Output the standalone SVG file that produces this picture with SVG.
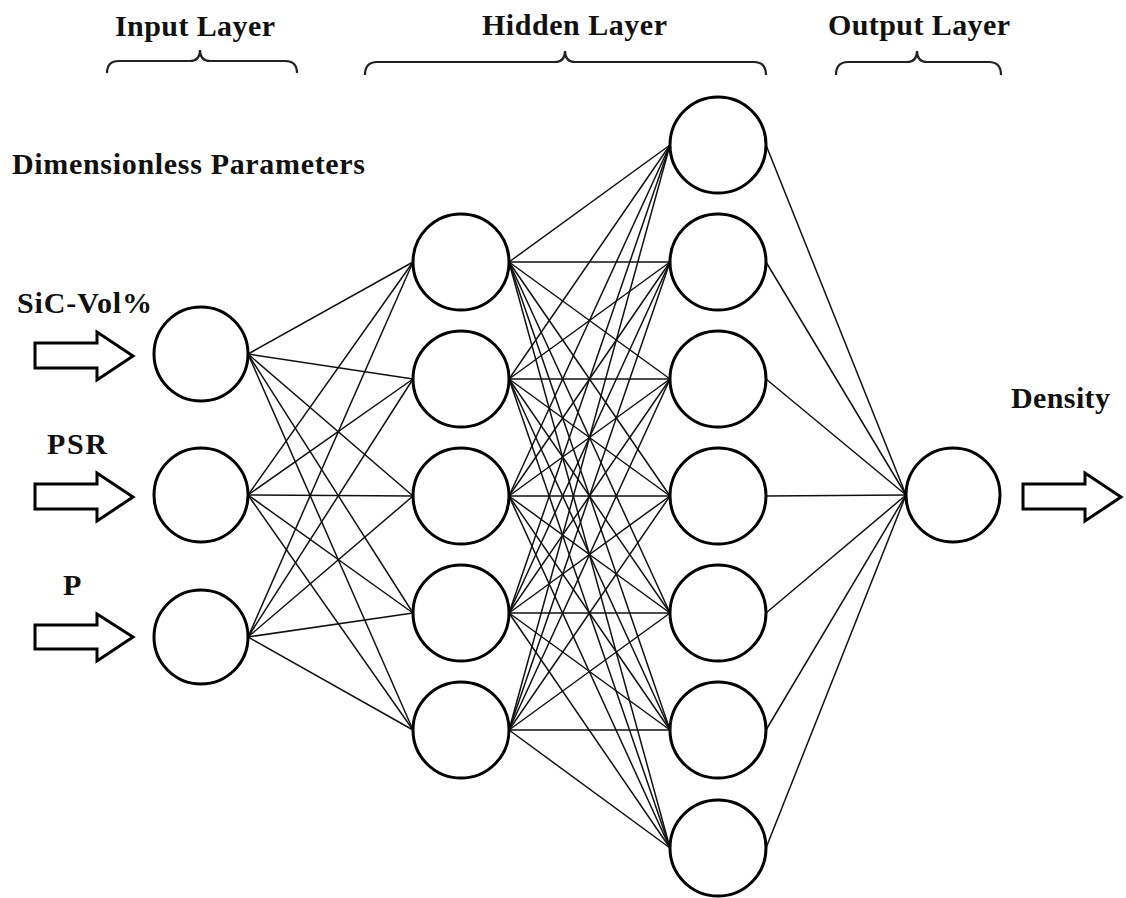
<svg xmlns="http://www.w3.org/2000/svg" width="1126" height="898" viewBox="0 0 1126 898">
<style>
.t{font-family:"Liberation Serif","Times New Roman",serif;font-weight:bold;font-size:30px;fill:#111}
.n{fill:#fff;stroke:#000;stroke-width:3}
.e line{stroke:#111;stroke-width:1.5}
.br{fill:none;stroke:#222;stroke-width:2.2}
.ar{fill:#fff;stroke:#000;stroke-width:3;stroke-linejoin:miter}
</style>
<rect width="1126" height="898" fill="#fff"/>
<g id="headers">
<text class="t" x="115" y="36" textLength="160" lengthAdjust="spacing">Input Layer</text>
<text class="t" x="482" y="35" textLength="185" lengthAdjust="spacing">Hidden Layer</text>
<text class="t" x="828" y="35" textLength="182" lengthAdjust="spacing">Output Layer</text>
<path class="br" d="M107,73 Q107,61 119,61 L190,61 Q200,61 200,50 Q200,61 210,61 L285,61 Q297,61 297,73"/>
<path class="br" d="M365,75 Q365,62 377,62 L555,62 Q565,62 565,51 Q565,62 575,62 L754,62 Q766,62 766,75"/>
<path class="br" d="M836,75 Q836,62 848,62 L907,62 Q917,62 917,51 Q917,62 927,62 L989,62 Q1001,62 1001,75"/>
<text class="t" x="12" y="174" textLength="353" lengthAdjust="spacing">Dimensionless Parameters</text>
</g>
<g id="inputs">
<text class="t" x="17" y="313" textLength="135" lengthAdjust="spacing">SiC-Vol%</text>
<text class="t" x="47" y="454" textLength="60" lengthAdjust="spacing">PSR</text>
<text class="t" x="63" y="595">P</text>
<polygon class="ar" points="35,343 97,343 97,332 133,356 97,380 97,368 35,368"/>
<polygon class="ar" points="35,484 97,484 97,473 133,497 97,521 97,509 35,509"/>
<polygon class="ar" points="35,625 97,625 97,614 133,637 97,661 97,649 35,649"/>
</g>
<g id="connectors" class="e">
<line x1="248" y1="354" x2="413" y2="262"/><line x1="248" y1="354" x2="413" y2="379"/><line x1="248" y1="354" x2="413" y2="496"/><line x1="248" y1="354" x2="413" y2="613"/><line x1="248" y1="354" x2="413" y2="730"/>
<line x1="248" y1="495" x2="413" y2="262"/><line x1="248" y1="495" x2="413" y2="379"/><line x1="248" y1="495" x2="413" y2="496"/><line x1="248" y1="495" x2="413" y2="613"/><line x1="248" y1="495" x2="413" y2="730"/>
<line x1="248" y1="637" x2="413" y2="262"/><line x1="248" y1="637" x2="413" y2="379"/><line x1="248" y1="637" x2="413" y2="496"/><line x1="248" y1="637" x2="413" y2="613"/><line x1="248" y1="637" x2="413" y2="730"/>
<line x1="509" y1="262" x2="670" y2="145"/><line x1="509" y1="262" x2="670" y2="262"/><line x1="509" y1="262" x2="670" y2="379"/><line x1="509" y1="262" x2="670" y2="496"/><line x1="509" y1="262" x2="670" y2="613"/><line x1="509" y1="262" x2="670" y2="730"/><line x1="509" y1="262" x2="670" y2="848"/>
<line x1="509" y1="379" x2="670" y2="145"/><line x1="509" y1="379" x2="670" y2="262"/><line x1="509" y1="379" x2="670" y2="379"/><line x1="509" y1="379" x2="670" y2="496"/><line x1="509" y1="379" x2="670" y2="613"/><line x1="509" y1="379" x2="670" y2="730"/><line x1="509" y1="379" x2="670" y2="848"/>
<line x1="509" y1="496" x2="670" y2="145"/><line x1="509" y1="496" x2="670" y2="262"/><line x1="509" y1="496" x2="670" y2="379"/><line x1="509" y1="496" x2="670" y2="496"/><line x1="509" y1="496" x2="670" y2="613"/><line x1="509" y1="496" x2="670" y2="730"/><line x1="509" y1="496" x2="670" y2="848"/>
<line x1="509" y1="613" x2="670" y2="145"/><line x1="509" y1="613" x2="670" y2="262"/><line x1="509" y1="613" x2="670" y2="379"/><line x1="509" y1="613" x2="670" y2="496"/><line x1="509" y1="613" x2="670" y2="613"/><line x1="509" y1="613" x2="670" y2="730"/><line x1="509" y1="613" x2="670" y2="848"/>
<line x1="509" y1="730" x2="670" y2="145"/><line x1="509" y1="730" x2="670" y2="262"/><line x1="509" y1="730" x2="670" y2="379"/><line x1="509" y1="730" x2="670" y2="496"/><line x1="509" y1="730" x2="670" y2="613"/><line x1="509" y1="730" x2="670" y2="730"/><line x1="509" y1="730" x2="670" y2="848"/>
<line x1="766" y1="145" x2="906" y2="495"/><line x1="766" y1="262" x2="906" y2="495"/><line x1="766" y1="379" x2="906" y2="495"/><line x1="766" y1="496" x2="906" y2="495"/><line x1="766" y1="613" x2="906" y2="495"/><line x1="766" y1="730" x2="906" y2="495"/><line x1="766" y1="848" x2="906" y2="495"/>
</g>
<g id="in1"><circle class="n" cx="201" cy="354" r="47"/></g>
<g id="in2"><circle class="n" cx="201" cy="495" r="47"/></g>
<g id="in3"><circle class="n" cx="201" cy="637" r="47"/></g>
<g id="h1a"><circle class="n" cx="461" cy="262" r="48"/></g>
<g id="h1b"><circle class="n" cx="461" cy="379" r="48"/></g>
<g id="h1c"><circle class="n" cx="461" cy="496" r="48"/></g>
<g id="h1d"><circle class="n" cx="461" cy="613" r="48"/></g>
<g id="h1e"><circle class="n" cx="461" cy="730" r="48"/></g>
<g id="h2a"><circle class="n" cx="718" cy="145" r="48"/></g>
<g id="h2b"><circle class="n" cx="718" cy="262" r="48"/></g>
<g id="h2c"><circle class="n" cx="718" cy="379" r="48"/></g>
<g id="h2d"><circle class="n" cx="718" cy="496" r="48"/></g>
<g id="h2e"><circle class="n" cx="718" cy="613" r="48"/></g>
<g id="h2f"><circle class="n" cx="718" cy="730" r="48"/></g>
<g id="h2g"><circle class="n" cx="718" cy="848" r="48"/></g>
<g id="out"><circle class="n" cx="953" cy="495" r="47"/></g>
<g id="output">
<text class="t" x="1011" y="408" textLength="99" lengthAdjust="spacing">Density</text>
<polygon class="ar" points="1023,484 1085,484 1085,473 1121,497 1085,521 1085,509 1023,509"/>
</g>
</svg>
